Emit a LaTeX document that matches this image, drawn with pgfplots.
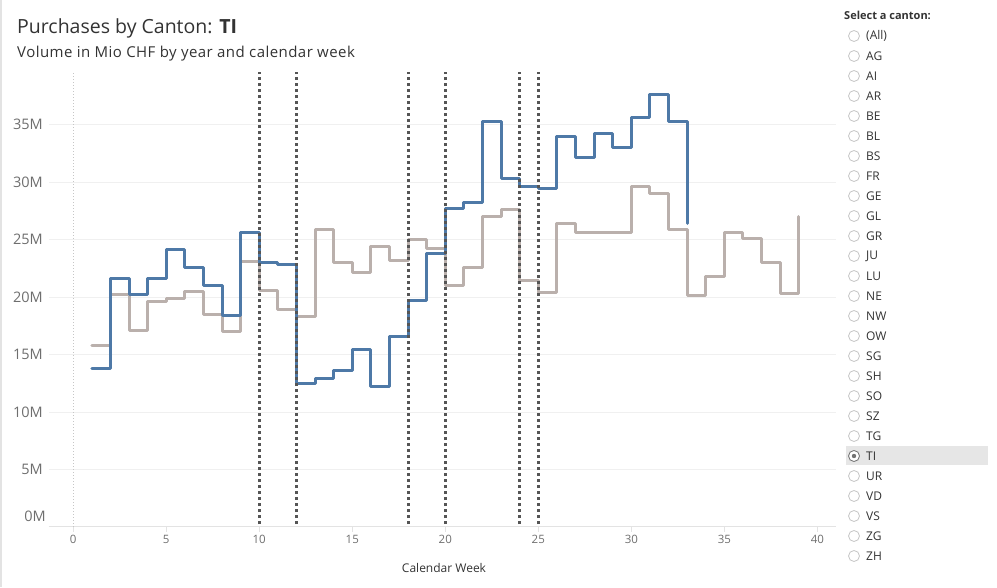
\documentclass[border=0pt]{standalone}
\usepackage{pgfplots}
\pgfplotsset{compat=1.18}
\usepackage{pgfplotstable}
\usepackage{fontspec}
\setmainfont{Open Sans}
\newfontfamily\subfont[LetterSpace=3]{Open Sans}

\definecolor{tblue}{HTML}{4E79A7}
\definecolor{tgray}{HTML}{BAB0AC}
\definecolor{refdot}{HTML}{555555}
\definecolor{ticktxt}{HTML}{6E6E6E}
\definecolor{titletxt}{HTML}{333333}
\definecolor{gridc}{HTML}{F0F0F0}
\definecolor{axisc}{HTML}{E3E3E3}
\definecolor{radio}{HTML}{C6C6C6}
\definecolor{selbg}{HTML}{E6E6E6}

% weekly volume, Mio CHF
\pgfplotstableread{
week vol
1 15.8
2 20.2
3 17.1
4 19.6
5 19.9
6 20.5
7 18.5
8 17.0
9 23.1
10 20.6
11 18.9
12 18.3
13 25.9
14 23.0
15 22.1
16 24.4
17 23.2
18 25.0
19 24.2
20 21.0
21 22.6
22 27.0
23 27.6
24 21.4
25 20.4
26 26.4
27 25.6
28 25.6
29 25.6
30 29.6
31 29.0
32 25.9
33 20.1
34 21.8
35 25.6
36 25.1
37 23.0
38 20.3
39 27.0
}\prevyear

\pgfplotstableread{
week vol
1 13.8
2 21.65
3 20.2
4 21.65
5 24.1
6 22.6
7 21.0
8 18.4
9 25.6
10 23.0
11 22.85
12 12.5
13 12.95
14 13.65
15 15.4
16 12.2
17 16.6
18 19.7
19 23.8
20 27.7
21 28.2
22 35.3
23 30.3
24 29.6
25 29.4
26 34.0
27 32.1
28 34.2
29 33.0
30 35.6
31 37.6
32 35.3
33 26.4
}\curyear

\begin{document}
\begin{tikzpicture}[x=1pt,y=1pt]
\useasboundingbox (0,0) rectangle (997,587);
\draw[color=axisc, line width=2pt] (1,0) -- (1,587);

\begin{axis}[
  at={(49pt,60pt)}, anchor=south west,
  scale only axis, width=787pt, height=457pt,
  xmin=-1.3, xmax=41, ymin=0, ymax=39.74,
  axis lines*=left,
  y axis line style={draw=none},
  x axis line style={draw=axisc, line width=1pt},
  xtick={0,5,...,40},
  ytick={0,5,...,35},
  yticklabels={,5M,10M,15M,20M,25M,30M,35M},
  ymajorgrids, grid style={gridc, line width=1pt},
  tick align=outside,
  xtick style={draw=axisc, line width=1pt},
  major tick length=5pt,
  ytick style={draw=none},
  /pgf/number format/assume math mode=true,
  xticklabel style={font=\fontsize{11.5}{13}\selectfont, text=ticktxt},
  yticklabel style={font=\fontsize{14.5}{16}\selectfont, text=ticktxt, inner xsep=1pt},
  clip=false,
]
\addplot[gray!45, line width=1pt, dash pattern=on 1pt off 2pt, forget plot]
  coordinates {(0,0) (0,39.6)};
\addplot[tgray, line width=3pt, const plot, line join=round, line cap=round]
  table[x=week, y=vol] {\prevyear};
\addplot[tblue, line width=3pt, const plot, line join=round, line cap=round]
  table[x=week, y=vol] {\curyear};
\addplot[refdot, line width=3pt, dash pattern=on 3pt off 3pt, forget plot] coordinates {(10,0.25) (10,39.55)};
\addplot[refdot, line width=3pt, dash pattern=on 3pt off 3pt, forget plot] coordinates {(12,0.25) (12,39.55)};
\addplot[refdot, line width=3pt, dash pattern=on 3pt off 3pt, forget plot] coordinates {(18,0.25) (18,39.55)};
\addplot[refdot, line width=3pt, dash pattern=on 3pt off 3pt, forget plot] coordinates {(20,0.25) (20,39.55)};
\addplot[refdot, line width=3pt, dash pattern=on 3pt off 3pt, forget plot] coordinates {(24,0.25) (24,39.55)};
\addplot[refdot, line width=3pt, dash pattern=on 3pt off 3pt, forget plot] coordinates {(25,0.25) (25,39.55)};
\end{axis}

% 0M label sits raised above the axis line
\node[anchor=east, inner xsep=1pt, font=\fontsize{14.5}{16}\selectfont, text=ticktxt] at (47,71) {0M};

% titles
\node[anchor=base west, inner sep=0pt, text=titletxt, font=\fontsize{19.5}{22}\selectfont] at (17,553) {Purchases by Canton: \textbf{TI}};
\node[anchor=base west, inner sep=0pt, text=titletxt, font=\subfont\fontsize{15}{17}\selectfont] at (17,529.5) {Volume in Mio CHF by year and calendar week};
\node[anchor=base, inner sep=0pt, text=titletxt, font=\fontsize{12}{14}\selectfont] at (444,14) {Calendar Week};

% canton selector
\node[anchor=base west, inner sep=0pt, text=titletxt, font=\bfseries\fontsize{11}{13}\selectfont] at (844,567) {Select a canton:};
\fill[selbg] (846,122) rectangle (988,141);
\foreach \c [count=\i from 0] in {{(All)},AG,AI,AR,BE,BL,BS,FR,GE,GL,GR,JU,LU,NE,NW,OW,SG,SH,SO,SZ,TG,TI,UR,VD,VS,ZG,ZH} {
  \pgfmathsetmacro\yy{587-36-20*\i}
  \draw[radio, line width=0.8pt, fill=white] (854,\yy) circle (5.5);
  \node[anchor=west, inner xsep=0pt, text=titletxt, font=\fontsize{12}{14}\selectfont] at (866,\yy) {\c};
}
\draw[gray!90!black, line width=0.8pt, fill=white] (854,131) circle (5.5);
\fill[gray!90!black] (854,131) circle (2.2);
\end{tikzpicture}
\end{document}
